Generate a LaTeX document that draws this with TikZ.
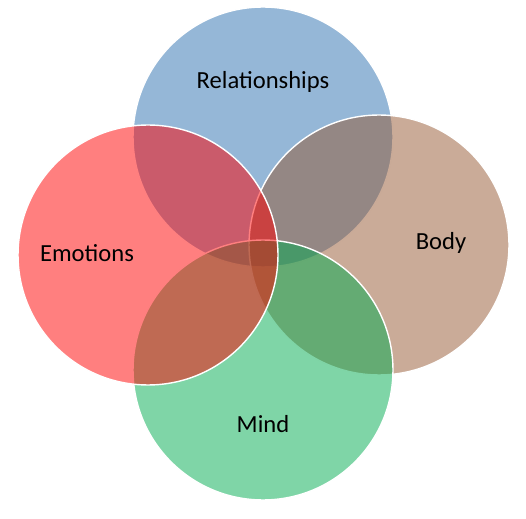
\documentclass[tikz,border=0pt]{standalone}
\usepackage{fontspec}
\setmainfont{Carlito}
\usepackage{tikz}
\usetikzlibrary{positioning}

\definecolor{relblue}{RGB}{43,111,175}
\definecolor{emored}{RGB}{255,0,0}
\definecolor{bodybrown}{RGB}{149,87,49}
\definecolor{mindgreen}{RGB}{0,171,79}

\begin{document}
\begin{tikzpicture}[
    x=0.02cm, y=-0.02cm,
    ring/.style={
        draw=white, line width=0.8pt, circle,
        minimum size=5.2cm, inner sep=0pt,
        fill opacity=0.5, draw opacity=1
    },
    lbl/.style={
        font=\fontsize{14}{17}\selectfont, text=black, inner sep=1pt
    }
]
\useasboundingbox (0,0) rectangle (526,519);

% circles, back to front
\node[ring, fill=relblue]   (rel)  at (263,137) {};
\node[ring, fill=bodybrown] (body) at (379,245) {};
\node[ring, fill=mindgreen] (mind) at (263,370) {};
\node[ring, fill=emored]    (emo)  at (148,255) {};

\node[lbl] (relt)  at (263,82)  {Relationships};
\node[lbl] (emot)  at (87,253)  {Emotions};
\node[lbl] (bodyt) at (441,243) {Body};
\node[lbl] (mindt) at (263,424) {Mind};

\end{tikzpicture}
\end{document}
